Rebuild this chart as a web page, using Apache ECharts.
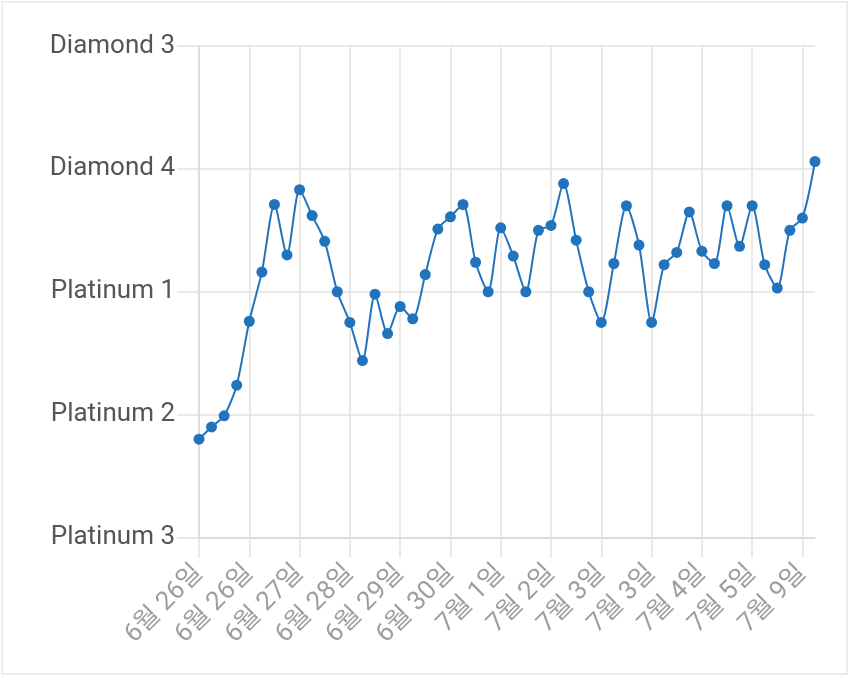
<!DOCTYPE html>
<html>
<head>
<meta charset="utf-8">
<script src="https://cdn.jsdelivr.net/npm/echarts@6/dist/echarts.min.js"></script>
<style>
html,body{margin:0;padding:0;background:#fff;}
#main{width:850px;height:677px;}
</style>
</head>
<body>
<div id="main"></div>
<script>
// categories (shown every 4th point)
var categories = [
  '6월 26일','6월 26일','6월 26일','6월 26일',
  '6월 26일','6월 26일','6월 26일','6월 26일',
  '6월 27일','6월 27일','6월 27일','6월 27일',
  '6월 28일','6월 28일','6월 28일','6월 28일',
  '6월 29일','6월 29일','6월 29일','6월 29일',
  '6월 30일','6월 30일','6월 30일','6월 30일',
  '7월 1일','7월 1일','7월 1일','7월 1일',
  '7월 2일','7월 2일','7월 2일','7월 2일',
  '7월 3일','7월 3일','7월 3일','7월 3일',
  '7월 3일','7월 3일','7월 3일','7월 3일',
  '7월 4일','7월 4일','7월 4일','7월 4일',
  '7월 5일','7월 5일','7월 5일','7월 5일',
  '7월 9일','7월 9일'
];
var tierLabels = ['Platinum 3','Platinum 2','Platinum 1','Diamond 4','Diamond 3'];
var rankValues = [
  0.80,0.90,0.99,1.24,1.76,2.16,2.71,2.30,2.83,2.62,
  2.41,2.00,1.75,1.44,1.98,1.66,1.88,1.78,2.14,2.51,
  2.61,2.71,2.24,2.00,2.52,2.29,2.00,2.50,2.54,2.88,
  2.42,2.00,1.75,2.23,2.70,2.38,1.75,2.22,2.32,2.65,
  2.33,2.23,2.70,2.37,2.70,2.22,2.03,2.50,2.60,3.06
];

var chart = echarts.init(document.getElementById('main'), null, {renderer:'canvas'});
var gridColor = '#e2e2e2';
chart.setOption({
  animation:false,
  backgroundColor:'#ffffff',
  graphic:[{
    type:'rect', silent:true,
    shape:{x:2,y:2,width:845,height:672},
    style:{fill:'none',stroke:'#ececec',lineWidth:2}
  }],
  grid:{left:199,right:35,top:46,bottom:139.5,containLabel:false},
  xAxis:{
    type:'category',
    data:categories,
    boundaryGap:false,
    axisLine:{show:true,lineStyle:{color:'#d8d8d8',width:1.5}},
    axisTick:{show:true,interval:3,length:20,lineStyle:{color:gridColor,width:1.5}},
    axisLabel:{
      interval:3,rotate:45,margin:32,
      color:'#9e9e9e',fontSize:26,
      fontFamily:'Roboto, "Noto Sans CJK KR", sans-serif'
    },
    splitLine:{show:true,interval:3,lineStyle:{color:gridColor,width:1.5}}
  },
  yAxis:{
    type:'value',
    min:0,max:4,interval:1,
    axisLine:{show:true,lineStyle:{color:'#d8d8d8',width:1.5}},
    axisTick:{show:true,length:22,lineStyle:{color:gridColor,width:1.5}},
    axisLabel:{
      margin:24,color:'#555555',fontSize:26,
      fontFamily:'Roboto, "Noto Sans", sans-serif',
      formatter:function(v){return tierLabels[Math.round(v)];}
    },
    splitLine:{show:true,lineStyle:{color:gridColor,width:1.5}}
  },
  series:[{
    type:'line',
    data:rankValues,
    smooth:0.25,
    symbol:'circle',
    symbolSize:11,
    showAllSymbol:true,
    lineStyle:{color:'#2173bd',width:2},
    itemStyle:{color:'#2173bd'}
  }]
});
</script>
</body>
</html>
